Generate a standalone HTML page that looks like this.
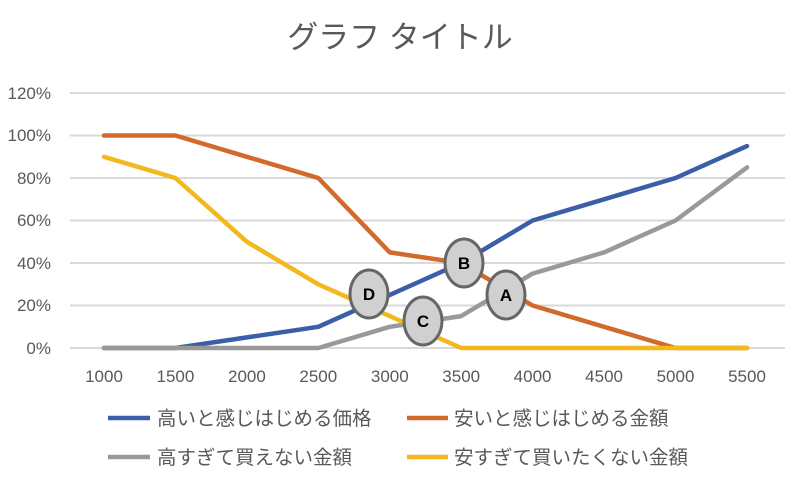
<!DOCTYPE html><html><head><meta charset="utf-8"><style>body{margin:0;background:#fff}svg{display:block}text{font-family:"Liberation Sans","Noto Sans CJK JP",sans-serif;fill:#595959}</style></head><body>
<svg width="805" height="482" viewBox="0 0 805 482">
<text x="400" y="48" font-size="31" text-anchor="middle">グラフ タイトル</text>
<g stroke="#d9d9d9" stroke-width="2">
<line x1="70" x2="785" y1="93" y2="93"/><line x1="70" x2="785" y1="135.5" y2="135.5"/><line x1="70" x2="785" y1="178" y2="178"/><line x1="70" x2="785" y1="220.5" y2="220.5"/><line x1="70" x2="785" y1="263" y2="263"/><line x1="70" x2="785" y1="305.5" y2="305.5"/><line x1="70" x2="785" y1="348" y2="348"/></g>
<g font-size="17" text-anchor="end">
<text x="51" y="99">120%</text><text x="51" y="141">100%</text><text x="51" y="184">80%</text><text x="51" y="226">60%</text><text x="51" y="269">40%</text><text x="51" y="311">20%</text><text x="51" y="354">0%</text></g>
<g font-size="17" text-anchor="middle">
<text x="104" y="382">1000</text><text x="175.4" y="382">1500</text><text x="246.9" y="382">2000</text><text x="318.3" y="382">2500</text><text x="389.8" y="382">3000</text><text x="461.2" y="382">3500</text><text x="532.6" y="382">4000</text><text x="604.1" y="382">4500</text><text x="675.5" y="382">5000</text><text x="747" y="382">5500</text></g>
<g fill="none" stroke-width="4.5" stroke-linejoin="round" stroke-linecap="round">
<polyline stroke="#3b5ea8" points="104,348 175.4,348 246.9,337.4 318.3,326.8 389.8,294.9 461.2,263 532.6,220.5 604.1,199.3 675.5,178 747,146.1"/>
<polyline stroke="#d4692c" points="104,135.5 175.4,135.5 246.9,156.8 318.3,178 389.8,252.4 461.2,263 532.6,305.5 604.1,326.8 675.5,348 747,348"/>
<polyline stroke="#999999" points="104,348 175.4,348 246.9,348 318.3,348 389.8,326.8 461.2,316.1 532.6,273.6 604.1,252.4 675.5,220.5 747,167.4"/>
<polyline stroke="#f2b81c" points="104,156.8 175.4,178 246.9,241.8 318.3,284.3 389.8,316.1 461.2,348 532.6,348 604.1,348 675.5,348 747,348"/>
</g>
<g fill="#d0d0d0" stroke="#666" stroke-width="3">
<ellipse cx="369" cy="294" rx="19" ry="24"/><ellipse cx="464" cy="263" rx="19" ry="24"/><ellipse cx="506" cy="295" rx="19" ry="24"/><ellipse cx="423" cy="321" rx="19" ry="24"/></g>
<g font-size="17" font-weight="bold" text-anchor="middle">
<text x="369" y="300" style="fill:#000">D</text><text x="464" y="269" style="fill:#000">B</text><text x="506" y="301" style="fill:#000">A</text><text x="423" y="327" style="fill:#000">C</text></g>
<g stroke-width="4.5"><line x1="108" x2="150" y1="418" y2="418" stroke="#3b5ea8"/><line x1="407" x2="448" y1="418" y2="418" stroke="#d4692c"/><line x1="108" x2="150" y1="457" y2="457" stroke="#999999"/><line x1="407" x2="448" y1="457" y2="457" stroke="#f2b81c"/></g>
<g font-size="19.5"><text x="157" y="425">高いと感じはじめる価格</text><text x="454" y="425">安いと感じはじめる金額</text><text x="157" y="464">高すぎて買えない金額</text><text x="454" y="464">安すぎて買いたくない金額</text></g>
</svg></body></html>
